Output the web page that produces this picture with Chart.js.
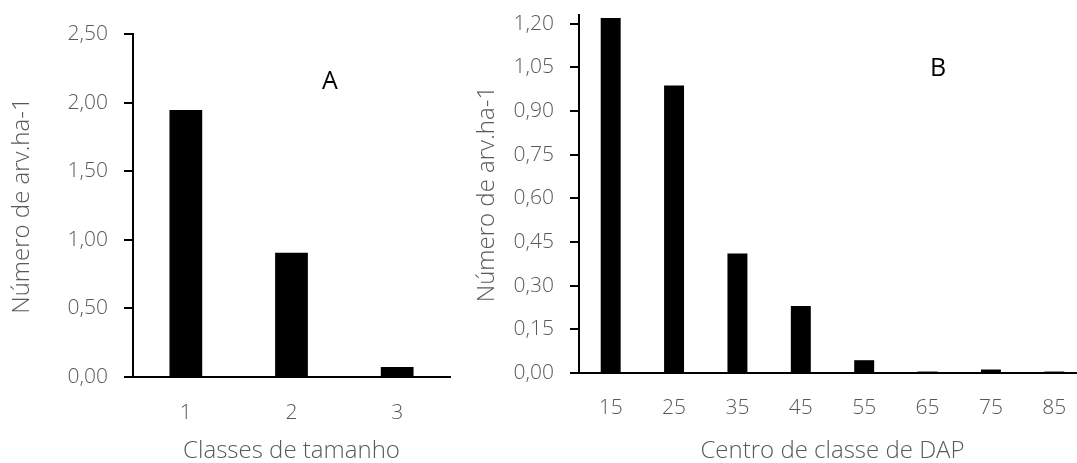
<!DOCTYPE html>
<html>
<head>
<meta charset="utf-8">
<script src="https://cdn.jsdelivr.net/npm/chart.js@4"></script>
<style>
  html, body { margin: 0; padding: 0; background: #fff; overflow: hidden; }
  body { width: 1077px; height: 463px; position: relative; }
  canvas { position: absolute; top: 0; }
  #chartA { left: 0; }
  #chartB { left: 440px; }
  .tag { position: absolute; font-family: "Open Sans", sans-serif; font-size: 25px; color: #000; transform: translate(-50%, -50%); }
</style>
</head>
<body>
<canvas id="chartA" width="460" height="463"></canvas>
<canvas id="chartB" width="660" height="463"></canvas>
<div class="tag" style="left:330px; top:79px;">A</div>
<div class="tag" style="left:938px; top:66px;">B</div>
<script>
// painel A
const classesA = ['1', '2', '3'];
const valoresA = [1.946, 0.906, 0.073];

// painel B
const classesB = ['15', '25', '35', '45', '55', '65', '75', '85'];
const valoresB = [1.22, 0.988, 0.411, 0.23, 0.044, 0.005, 0.012, 0.005];

const cinza = '#595959';
const fonte = 'Open Sans';

function virgula(v) {
  return Number(v).toFixed(2).replace('.', ',');
}

function opcoes(cfg) {
  return {
    responsive: false,
    animation: false,
    layout: { padding: { top: cfg.top, right: cfg.right, left: 0, bottom: 0 } },
    plugins: { legend: { display: false }, tooltip: { enabled: false } },
    scales: {
      x: {
        grid: { display: false, drawTicks: false },
        border: { display: true, color: '#000', width: 2 },
        ticks: { color: cinza, padding: cfg.xPad, font: { family: fonte, size: 21, weight: '300' } },
        title: {
          display: true,
          text: cfg.xTitle,
          color: cinza,
          padding: 0,
          font: { family: fonte, size: 24, weight: '300', lineHeight: 1 }
        },
        afterFit: s => { s.height = cfg.xHeight; }
      },
      y: {
        min: 0,
        max: cfg.max,
        grid: { display: true, drawOnChartArea: false, drawTicks: true, tickLength: 9, color: '#000', lineWidth: 2 },
        border: { display: true, color: '#000', width: 2 },
        ticks: {
          stepSize: cfg.step,
          includeBounds: false,
          color: cinza,
          padding: 16,
          font: { family: fonte, size: 21, weight: '300' },
          callback: v => virgula(v)
        },
        title: {
          display: true,
          text: 'Número de arv.ha-1',
          color: cinza,
          padding: { top: cfg.yTitlePad, bottom: 0 },
          font: { family: fonte, size: 24, weight: '300' }
        },
        afterFit: s => {
          s.width = cfg.yWidth;
          s.paddingTop = 10;
          s.paddingBottom = 0;
        }
      }
    }
  };
}

new Chart(document.getElementById('chartA').getContext('2d'), {
  type: 'bar',
  data: {
    labels: classesA,
    datasets: [{
      data: valoresA,
      backgroundColor: '#000',
      barPercentage: 0.31,
      categoryPercentage: 1
    }]
  },
  options: opcoes({ top: 34, right: 10, xHeight: 86, xPad: 23, yWidth: 133, yTitlePad: 8,
    max: 2.5, step: 0.5, xTitle: 'Classes de tamanho' })
});

new Chart(document.getElementById('chartB').getContext('2d'), {
  type: 'bar',
  data: {
    labels: classesB,
    datasets: [{
      data: valoresB,
      backgroundColor: '#000',
      barPercentage: 0.315,
      categoryPercentage: 1
    }]
  },
  options: opcoes({ top: 15, right: 14, xHeight: 90, xPad: 22, yWidth: 139, yTitlePad: 33,
    max: 1.23, step: 0.15, xTitle: 'Centro de classe de DAP' })
});
</script>
</body>
</html>
